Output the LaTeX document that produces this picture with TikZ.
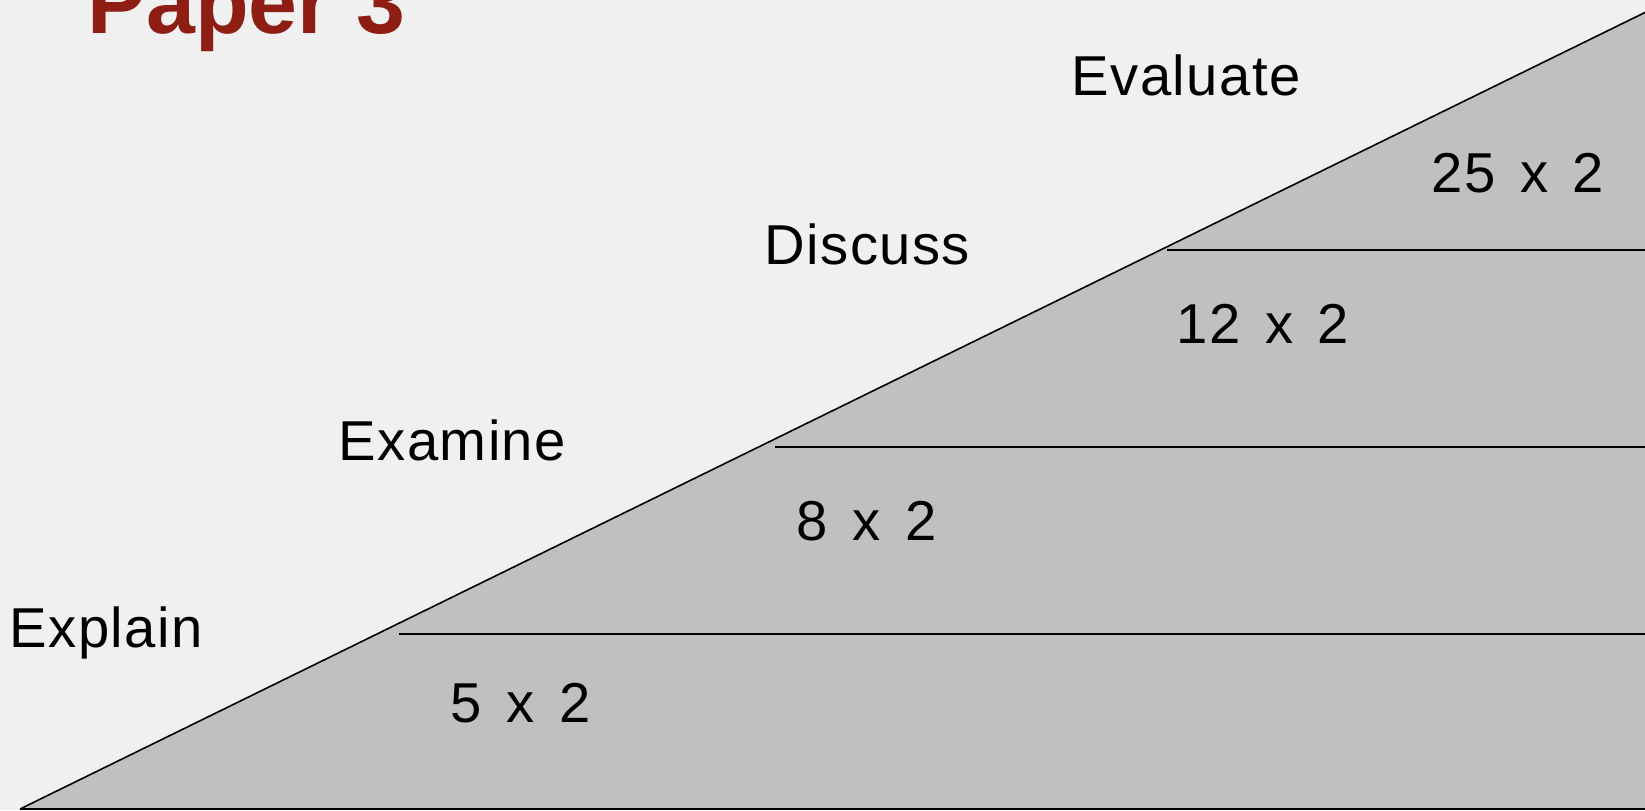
\documentclass[tikz,border=0pt]{standalone}
\usepackage{fontspec}
\setmainfont{Liberation Sans}
\newfontfamily\lblfont{Liberation Sans}[LetterSpace=2.5]
\newfontfamily\numfont{Liberation Sans}[LetterSpace=2.5,WordSpace=1.2]
\definecolor{bgcol}{RGB}{240,240,240}
\definecolor{fillgray}{RGB}{192,192,192}
\definecolor{titlered}{RGB}{142,29,19}
\begin{document}
\begin{tikzpicture}[x=0.1mm,y=-0.1mm,
  lbl/.style={anchor=base west,inner sep=0pt,font=\fontsize{16pt}{18pt}\selectfont\lblfont},
  num/.style={anchor=base west,inner sep=0pt,font=\fontsize{16pt}{18pt}\selectfont\numfont},
  rule/.style={line width=0.55pt,black}]
\useasboundingbox (0,0) rectangle (1645,810);
\clip (0,0) rectangle (1645,810);
\fill[bgcol] (0,0) rectangle (1645,810);
% triangle
\coordinate (bl) at (20,809);
\coordinate (tr) at (1650,10);
\coordinate (br) at (1650,809);
\fill[fillgray] (bl) -- (tr) -- (br) -- cycle;
\draw[line width=0.45pt] (bl) -- (tr);
\draw[line width=0.45pt] (bl) -- (br);
% horizontal dividers
\coordinate (a1) at (1167,250); \coordinate (a2) at (1650,250);
\coordinate (b1) at (775,447);  \coordinate (b2) at (1650,447);
\coordinate (c1) at (399,634);  \coordinate (c2) at (1650,634);
\draw[rule] (a1) -- (a2);
\draw[rule] (b1) -- (b2);
\draw[rule] (c1) -- (c2);
% title
\node[anchor=base west,inner sep=0pt,text=titlered,font=\fontsize{25pt}{28pt}\selectfont\bfseries] (title) at (87,33) {Paper 3};
% labels
\node[lbl] (evaluate) at (1071,95) {Evaluate};
\node[lbl] (discuss) at (764,264) {Discuss};
\node[lbl] (examine) at (338,460) {Examine};
\node[lbl] (explain) at (9,647) {Explain};
% numbers
\node[num] (n25) at (1431,192) {25 x 2};
\node[num] (n12) at (1176,343) {12 x 2};
\node[num] (n8) at (796,540) {8 x 2};
\node[num] (n5) at (450,722) {5 x 2};
\end{tikzpicture}
\end{document}
